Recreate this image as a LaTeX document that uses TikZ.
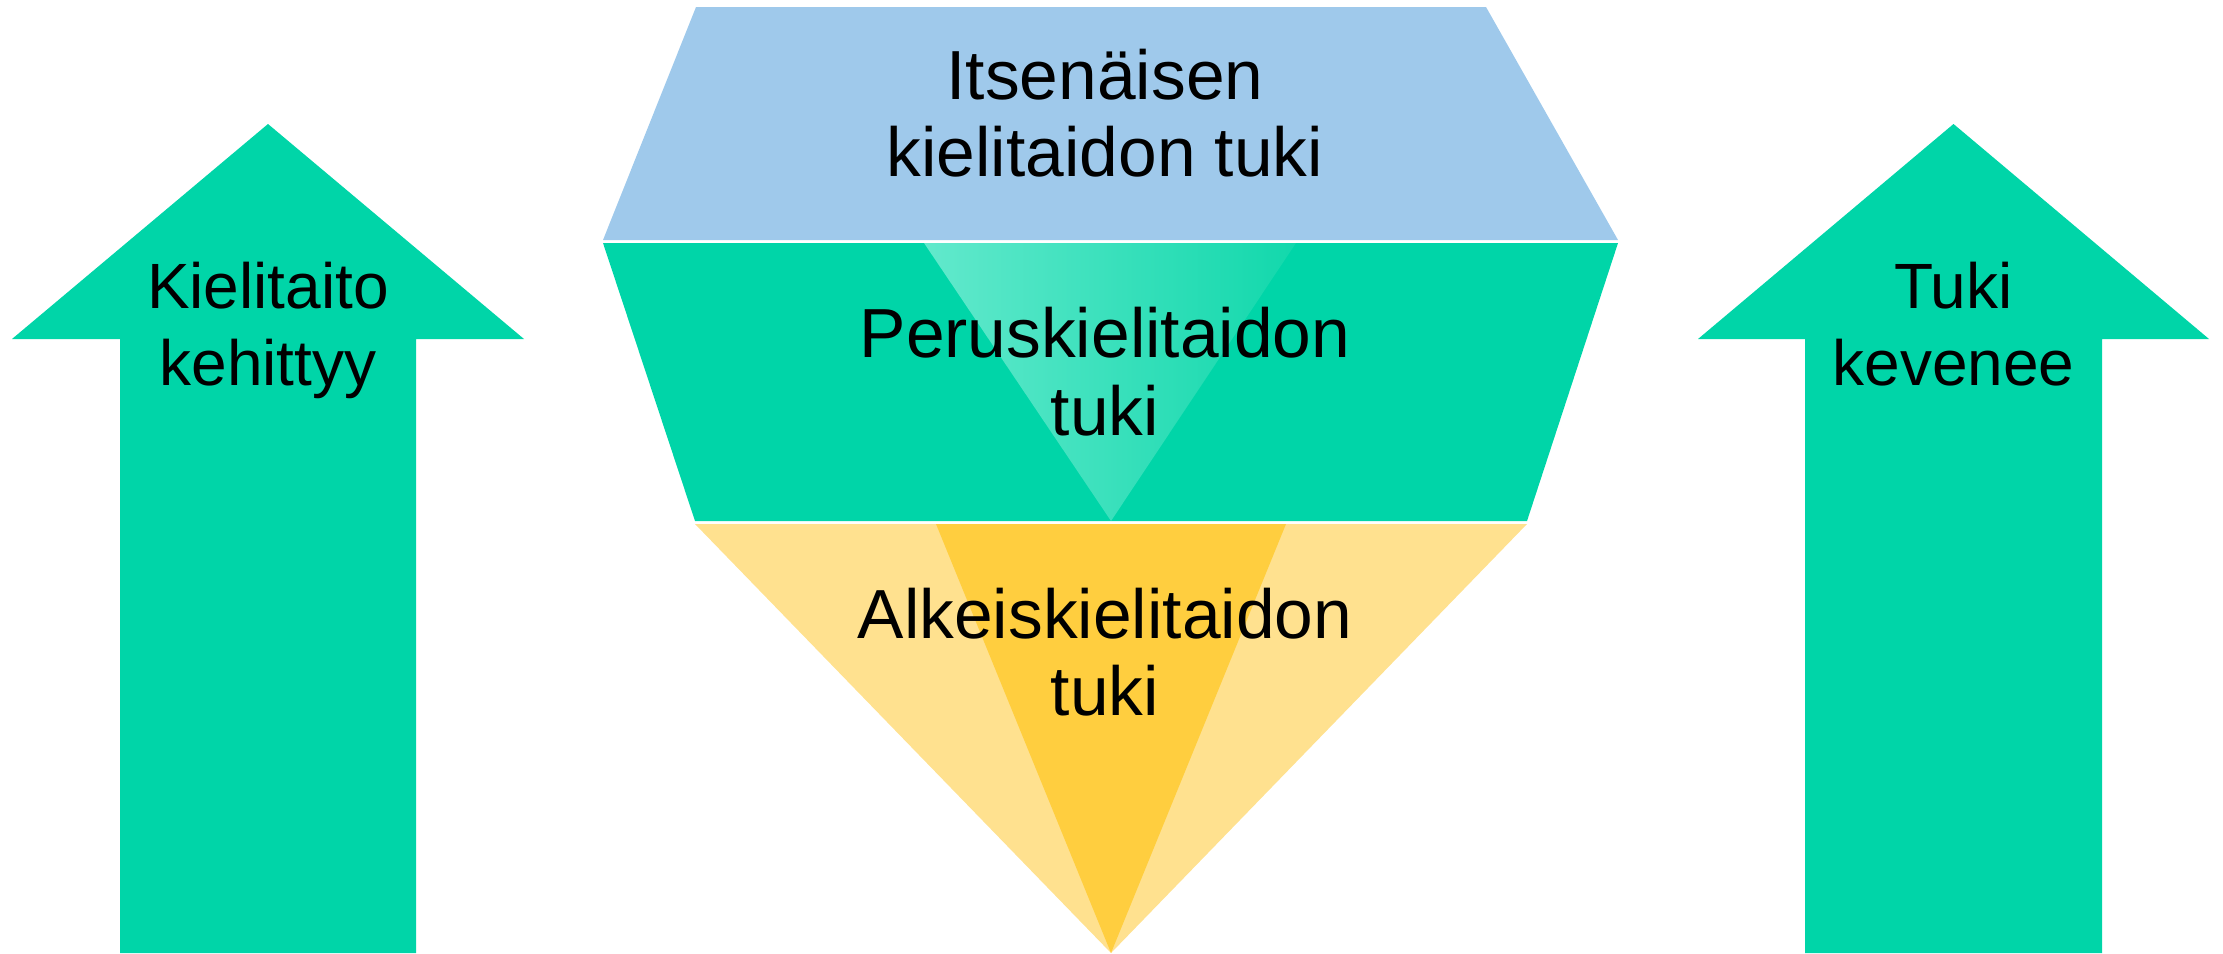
\documentclass[tikz,border=0pt]{standalone}
\usepackage{fontspec}
\setmainfont{Liberation Sans}
\definecolor{grn}{HTML}{00D5A8}
\definecolor{blu}{HTML}{9FC9EB}
\definecolor{ylight}{HTML}{FFE18F}
\definecolor{ydark}{HTML}{FFCE3F}
\definecolor{glightL}{HTML}{62E9CC}
\definecolor{glightR}{HTML}{12D8AC}
\begin{document}
\begin{tikzpicture}[x=1pt,y=-1pt]
\tikzset{
  lbl/.style={inner sep=0pt, anchor=base, font=\fontsize{69.5}{77.5}\selectfont},
  arrlbl/.style={inner sep=0pt, anchor=base, font=\fontsize{64}{77.5}\selectfont},
  uparrow/.style={fill=grn},
}
\useasboundingbox (0,0) rectangle (2223,953);
% left arrow
\fill[uparrow] (268,124) -- (524,339) -- (416,339) -- (416,953) -- (120,953) -- (120,339) -- (12,339) -- cycle;
% right arrow
\fill[uparrow] (1953.5,124) -- (2209,339) -- (2102,339) -- (2102,953) -- (1805,953) -- (1805,339) -- (1698,339) -- cycle;
% blue layer
\fill[blu] (696,7) -- (1486,7) -- (1618,240) -- (603,240) -- cycle;
% green layer
\fill[grn] (603,243) -- (1618,243) -- (1527,521) -- (695,521) -- cycle;
\shade[left color=glightL, right color=glightR] (924,243) -- (1296,243) -- (1111,521) -- cycle;
% yellow layer
\fill[ylight] (695,524) -- (1527,524) -- (1111,953) -- cycle;
\fill[ydark] (936,524) -- (1286,524) -- (1111,953) -- cycle;
% labels
\node[lbl] (itse) at (1105,99.3) {\begin{tabular}[t]{@{}c@{}}Itsenäisen\\kielitaidon tuki\end{tabular}};
\node[lbl] (peru) at (1105,357.5) {\begin{tabular}[t]{@{}c@{}}Peruskielitaidon\\tuki\end{tabular}};
\node[lbl] (alke) at (1105,638.3) {\begin{tabular}[t]{@{}c@{}}Alkeiskielitaidon\\tuki\end{tabular}};
\node[arrlbl] (kiel) at (268,308.3) {\begin{tabular}[t]{@{}c@{}}Kielitaito\\kehittyy\end{tabular}};
\node[arrlbl] (tuki) at (1953.5,308.3) {\begin{tabular}[t]{@{}c@{}}Tuki\\kevenee\end{tabular}};
\end{tikzpicture}
\end{document}
